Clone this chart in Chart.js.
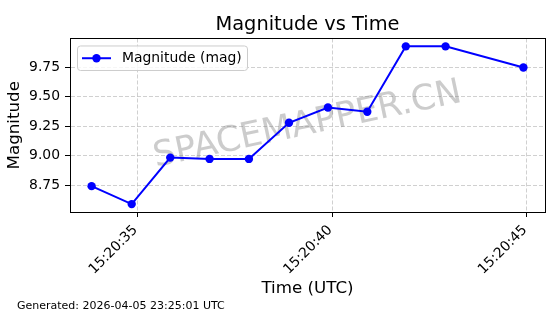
<!DOCTYPE html>
<html>
<head>
<meta charset="utf-8">
<script src="https://cdn.jsdelivr.net/npm/chart.js@4.4.1/dist/chart.umd.min.js"></script>
<style>
html, body { margin: 0; padding: 0; background: #ffffff; }
</style>
</head>
<body>
<canvas id="mycanvas" width="560" height="314"></canvas>
<script>
// time in seconds after 15:20:00 UTC
var times = [33.82, 34.85, 35.84, 36.85, 37.86, 38.89, 39.89, 40.90, 41.89, 42.91, 44.91];
var magnitudes = [8.744, 8.592, 8.985, 8.974, 8.974, 9.279, 9.408, 9.372, 9.925, 9.925, 9.747];
var xTickValues = [35, 40, 45];
var xTickLabels = ['15:20:35', '15:20:40', '15:20:45'];
var yTickValues = [8.75, 9.00, 9.25, 9.50, 9.75];
var seriesLabel = 'Magnitude (mag)';
var chartTitle = 'Magnitude vs Time';
var generatedText = 'Generated: 2026-04-05 23:25:01 UTC';
var watermarkText = 'SPACEMAPPER.CN';

var FONT = 'DejaVu Sans';
var BLUE = '#0000ff';

// matplotlib style 5% margins around the data
function padRange(arr) {
    var lo = Math.min.apply(null, arr), hi = Math.max.apply(null, arr);
    var m = (hi - lo) * 0.05;
    return [lo - m, hi + m];
}
var xr = padRange(times);
var yr = padRange(magnitudes);

var points = [];
for (var i in times) {
    points.push({x: times[i], y: magnitudes[i]});
}

var extras = {
    id: 'extras',
    beforeDatasetsDraw: function (chart) {
        var ctx = chart.ctx, a = chart.chartArea;
        ctx.save();
        ctx.translate((a.left + a.right) / 2, (a.top + a.bottom) / 2);
        ctx.rotate(-12 * Math.PI / 180);
        ctx.font = '35px "' + FONT + '"';
        ctx.fillStyle = 'rgba(128,128,128,0.4)';
        ctx.textAlign = 'center';
        ctx.textBaseline = 'middle';
        ctx.fillText(watermarkText, 0, 0);
        ctx.restore();
    },
    afterDraw: function (chart) {
        var ctx = chart.ctx, a = chart.chartArea;
        ctx.save();
        // axes frame
        ctx.strokeStyle = '#000';
        ctx.lineWidth = 1;
        ctx.strokeRect(Math.round(a.left) + 0.5, Math.round(a.top) + 0.5,
            Math.round(a.right - a.left), Math.round(a.bottom - a.top));

        // legend box
        var lx = a.left + 7.5, ly = a.top + 7.5, lw = 170, lh = 24.5;
        ctx.beginPath();
        ctx.roundRect(lx, ly, lw, lh, 3);
        ctx.fillStyle = 'rgba(255,255,255,0.8)';
        ctx.fill();
        ctx.strokeStyle = '#cccccc';
        ctx.lineWidth = 1;
        ctx.stroke();
        var my = ly + lh / 2;
        ctx.beginPath();
        ctx.moveTo(lx + 4.5, my);
        ctx.lineTo(lx + 33.5, my);
        ctx.strokeStyle = BLUE;
        ctx.lineWidth = 2;
        ctx.stroke();
        ctx.beginPath();
        ctx.arc(lx + 19, my, 4.2, 0, Math.PI * 2);
        ctx.fillStyle = BLUE;
        ctx.fill();
        ctx.fillStyle = '#000';
        ctx.font = '13.9px "' + FONT + '"';
        ctx.textAlign = 'left';
        ctx.textBaseline = 'middle';
        ctx.fillText(seriesLabel, lx + 44.5, my);

        // footer note
        ctx.font = '11px "' + FONT + '"';
        ctx.textBaseline = 'alphabetic';
        ctx.fillText(generatedText, 17, 309);
        ctx.restore();
    }
};

var ctx = document.getElementById('mycanvas');
var myChart = new Chart(ctx, {
    type: 'line',
    data: {
        datasets: [{
            label: seriesLabel,
            data: points,
            borderColor: BLUE,
            backgroundColor: BLUE,
            borderWidth: 2,
            pointRadius: 4.2,
            pointHoverRadius: 4.2,
            pointBorderWidth: 0,
            pointBackgroundColor: BLUE,
            tension: 0,
            clip: false
        }]
    },
    options: {
        responsive: false,
        animation: false,
        devicePixelRatio: 1,
        layout: { padding: { left: 0, right: 15, top: 0, bottom: 0 } },
        plugins: {
            legend: { display: false },
            tooltip: { enabled: false },
            title: {
                display: true,
                text: chartTitle,
                fullSize: false,
                color: '#000',
                font: { family: FONT, size: 19.4, weight: 'normal' },
                padding: { top: 13, bottom: 2.2 }
            }
        },
        scales: {
            x: {
                type: 'linear',
                min: xr[0],
                max: xr[1],
                afterBuildTicks: function (s) {
                    s.ticks = xTickValues.map(function (v) { return {value: v}; });
                },
                afterFit: function (s) { s.height = 102; },
                ticks: {
                    autoSkip: false,
                    minRotation: 45,
                    maxRotation: 45,
                    padding: 5,
                    labelOffset: -2,
                    color: '#000',
                    font: { family: FONT, size: 13.9 },
                    callback: function (v) {
                        var k = xTickValues.indexOf(v);
                        return k >= 0 ? xTickLabels[k] : '';
                    }
                },
                grid: {
                    color: 'rgba(176,176,176,0.75)',
                    lineWidth: 0.8,
                    tickLength: 5,
                    tickColor: '#000',
                    tickWidth: 1
                },
                border: { display: true, color: '#000', width: 1, dash: [4, 2] },
                title: {
                    display: true,
                    text: 'Time (UTC)',
                    color: '#000',
                    font: { family: FONT, size: 16.7 },
                    padding: { top: 0, bottom: 15 }
                }
            },
            y: {
                type: 'linear',
                min: yr[0],
                max: yr[1],
                afterBuildTicks: function (s) {
                    s.ticks = yTickValues.map(function (v) { return {value: v}; });
                },
                afterFit: function (s) { s.width = 70; },
                ticks: {
                    padding: 5,
                    color: '#000',
                    font: { family: FONT, size: 13.9 },
                    callback: function (v) { return v.toFixed(2); }
                },
                grid: {
                    color: 'rgba(176,176,176,0.75)',
                    lineWidth: 0.8,
                    tickLength: 5,
                    tickColor: '#000',
                    tickWidth: 1
                },
                border: { display: true, color: '#000', width: 1, dash: [4, 2] },
                title: {
                    display: true,
                    text: 'Magnitude',
                    color: '#000',
                    font: { family: FONT, size: 16.7 },
                    padding: { top: 5, bottom: 0 }
                }
            }
        }
    },
    plugins: [extras]
});
</script>
</body>
</html>
